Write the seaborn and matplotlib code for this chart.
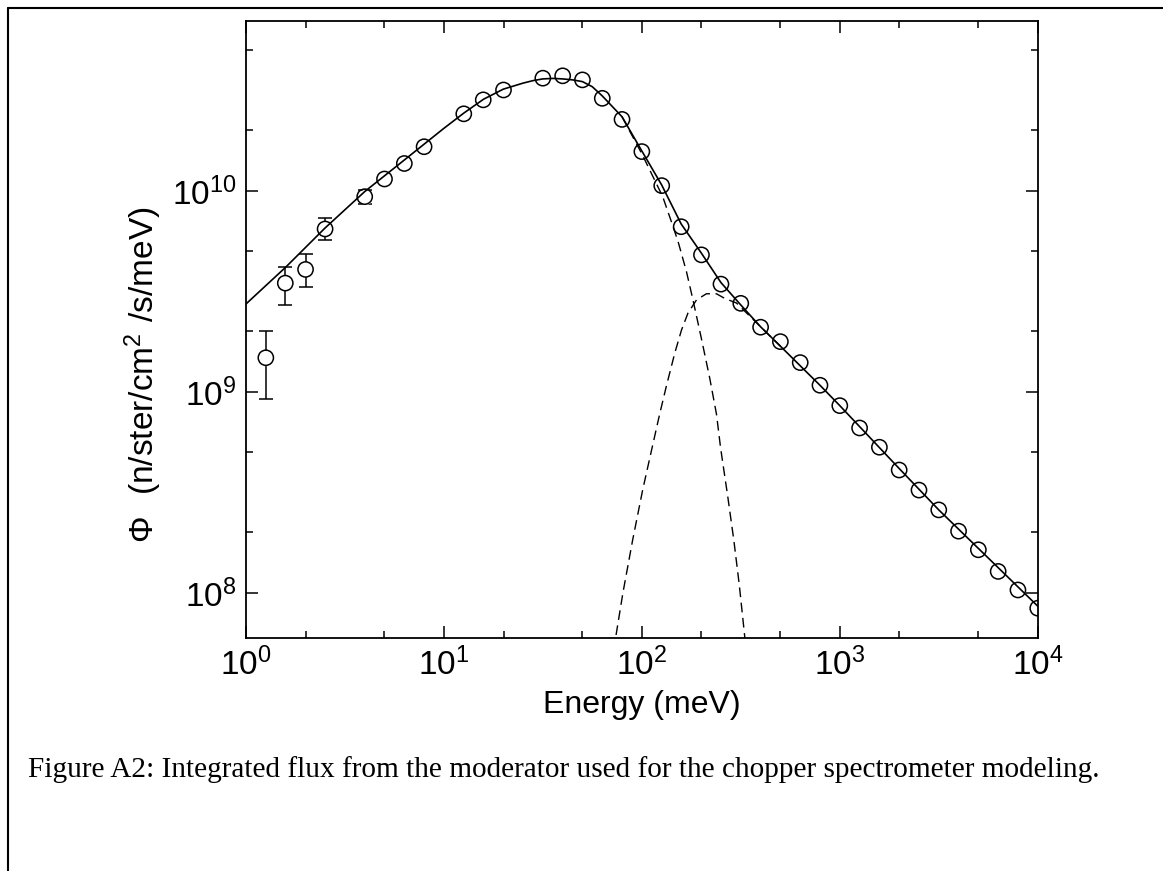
import numpy as np
import pandas as pd
import matplotlib
matplotlib.use('Agg')
import matplotlib.pyplot as plt
import seaborn as sns
from matplotlib.ticker import LogLocator, FuncFormatter, NullFormatter
from matplotlib.lines import Line2D

# measured flux points (energy in meV, flux in n/ster/cm^2/s/meV)
energy = [1.26, 1.58, 2.0, 2.51, 3.98, 5.01, 6.31, 7.94, 12.6, 15.8, 20.0,
          31.6, 39.8, 50.1, 63.1, 79.4, 100, 126, 158, 200, 251, 316, 398,
          501, 631, 794, 1000, 1259, 1585, 1995, 2512, 3162, 3981, 5012,
          6310, 7943, 10000]
flux = [1.48e9, 3.48e9, 4.07e9, 6.47e9, 9.37e9, 1.147e10, 1.37e10, 1.66e10,
        2.42e10, 2.84e10, 3.18e10, 3.64e10, 3.74e10, 3.57e10, 2.89e10,
        2.27e10, 1.57e10, 1.063e10, 6.64e9, 4.81e9, 3.44e9, 2.76e9, 2.10e9,
        1.78e9, 1.40e9, 1.08e9, 8.55e8, 6.62e8, 5.31e8, 4.09e8, 3.25e8,
        2.59e8, 2.03e8, 1.64e8, 1.28e8, 1.035e8, 8.4e7]

# error bars on the low energy points
err_energy = [1.26, 1.58, 2.0, 2.51, 3.98]
err_flux = [1.48e9, 3.48e9, 4.07e9, 6.47e9, 9.37e9]
err_low = [9.2e8, 2.71e9, 3.32e9, 5.69e9, 8.6e9]
err_high = [2.0e9, 4.2e9, 4.84e9, 7.3e9, 1.01e10]

# total fit (solid)
fit_energy = [1.0, 1.585, 2.512, 3.98, 6.31, 10.0, 12.6, 15.85, 19.95, 25.1,
              28.2, 31.6, 35.5, 39.8, 44.7, 50.1, 56.2, 63.1, 79.4, 100, 126,
              158, 200, 251, 316, 398, 501, 631, 794, 1000, 2000, 3162, 10000]
fit_flux = [2.74e9, 4.17e9, 6.55e9, 9.93e9, 1.426e10, 2.05e10, 2.44e10,
            2.86e10, 3.21e10, 3.44e10, 3.54e10, 3.61e10, 3.63e10, 3.61e10,
            3.57e10, 3.50e10, 3.30e10, 2.97e10, 2.34e10, 1.58e10, 1.07e10,
            6.85e9, 4.90e9, 3.50e9, 2.71e9, 2.11e9, 1.69e9, 1.35e9, 1.08e9,
            8.55e8, 4.15e8, 2.59e8, 8.6e7]

# maxwellian component (dashed)
maxw_energy = [79.4, 100, 127.4, 141, 152.4, 167.9, 181.1, 200, 220.3, 238.2,
               250, 271.6, 291.7, 310.5, 329.6, 336]
maxw_flux = [2.34e10, 1.53e10, 9.38e9, 7.03e9, 5.60e9, 3.98e9, 2.88e9,
             1.84e9, 1.17e9, 7.76e8, 5.25e8, 3.02e8, 1.82e8, 1.10e8, 6.3e7,
             5.2e7]

# epithermal component (dashed)
epi_energy = [72.0, 80.2, 89.9, 100.9, 112.5, 123, 133, 146.6, 158.5, 171,
              188.8, 211.8, 238.2, 262.4, 300.6, 398, 501]
epi_flux = [5.2e7, 1.0e8, 1.84e8, 3.25e8, 5.25e8, 7.76e8, 1.07e9, 1.56e9,
            2.03e9, 2.47e9, 2.87e9, 3.08e9, 3.08e9, 2.92e9, 2.77e9, 2.11e9,
            1.69e9]

sns.set_style('ticks')
plt.rcParams['font.family'] = ['Liberation Sans', 'DejaVu Sans']
plt.rcParams['mathtext.default'] = 'regular'
plt.rcParams['text.color'] = 'black'
plt.rcParams['axes.labelcolor'] = 'black'

fig = plt.figure(figsize=(11.63, 8.71), dpi=100)
ax = fig.add_axes([0.2115, 0.2675, 0.6808, 0.7087])
ax.set_xscale('log')
ax.set_yscale('log')

ax.errorbar(err_energy, err_flux,
            yerr=[np.array(err_flux) - np.array(err_low),
                  np.array(err_high) - np.array(err_flux)],
            fmt='none', ecolor='black', elinewidth=1.1, capsize=4.7,
            capthick=1.1, zorder=1)
sns.scatterplot(x=err_energy, y=err_flux, s=120, color='white',
                linewidth=0, ax=ax, zorder=1.5)

sns.lineplot(x=fit_energy, y=fit_flux, color='black', lw=1.2, ax=ax,
             estimator=None, sort=False, zorder=2)
sns.lineplot(x=maxw_energy, y=maxw_flux, color='black', lw=1.0,
             ls=(0, (7, 4)), ax=ax, estimator=None, sort=False, zorder=2)
sns.lineplot(x=epi_energy, y=epi_flux, color='black', lw=1.0,
             ls=(0, (7, 4)), ax=ax, estimator=None, sort=False, zorder=2)

sns.scatterplot(x=energy, y=flux, s=120, facecolor='none',
                edgecolor='black', linewidth=1.1, ax=ax, zorder=3)

ax.set_xlim(1, 1e4)
ax.set_ylim(5.97e7, 7.03e10)

for axis in (ax.xaxis, ax.yaxis):
    axis.set_major_locator(LogLocator(base=10, numticks=20))
    axis.set_minor_locator(LogLocator(base=10, subs=(2, 5), numticks=20))
    axis.set_minor_formatter(NullFormatter())
    axis.set_major_formatter(FuncFormatter(
        lambda v, p: r'$\mathregular{10^{%d}}$' % round(np.log10(v))))

ax.tick_params(which='both', direction='in', top=True, right=True,
               width=1.1, colors='black', labelsize=24)
ax.tick_params(which='major', length=8.6)
ax.tick_params(which='minor', length=5)
ax.tick_params(axis='x', pad=7)
ax.tick_params(axis='y', pad=7)
for sp in ax.spines.values():
    sp.set_linewidth(1.3)
    sp.set_color('black')

ax.set_xlabel('Energy (meV)', fontsize=23)
ax.xaxis.set_label_coords(0.5, -0.085)
ax.set_ylabel(r'$\mathregular{Φ\ \ (n/ster/cm^2\ /s/meV)}$', fontsize=24)
ax.yaxis.set_label_coords(-0.104, 0.426)

fig.text(28 / 1163, 1 - 770 / 871,
         'Figure A2: Integrated flux from the moderator used for the chopper spectrometer modeling.',
         family='Liberation Serif', fontsize=21.1, color='black',
         ha='left', va='center')

fig.add_artist(Line2D([8 / 1163, 8 / 1163], [0, 1 - 8 / 871], color='black', lw=1.5))
fig.add_artist(Line2D([8 / 1163, 1], [1 - 8 / 871, 1 - 8 / 871], color='black', lw=1.5))

fig.savefig('out.png', dpi=100)
